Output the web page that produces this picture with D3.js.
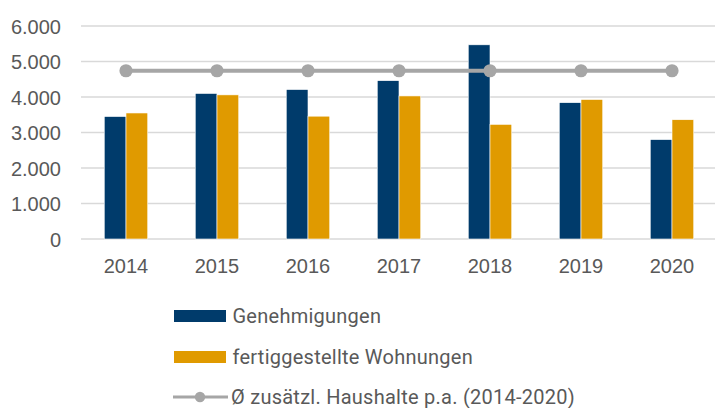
<!DOCTYPE html>
<html>
<head>
<meta charset="utf-8">
<script src="https://cdn.jsdelivr.net/npm/d3@7"></script>
<style>
  html, body { margin: 0; padding: 0; background: #fff; }
  svg { display: block; font-family: Roboto, "Noto Sans", sans-serif; }
</style>
</head>
<body>
<svg id="chart" width="715" height="408"></svg>
<script>
const years = ["2014", "2015", "2016", "2017", "2018", "2019", "2020"];
const genehmigungen = [3450, 4100, 4210, 4460, 5470, 3840, 2800];
const fertiggestellt = [3550, 4060, 3460, 4030, 3230, 3930, 3360];
const haushalte = [4740, 4740, 4740, 4740, 4740, 4740, 4740];
const yTicks = [0, 1000, 2000, 3000, 4000, 5000, 6000];
const seriesNames = ["Genehmigungen", "fertiggestellte Wohnungen", "Ø zusätzl. Haushalte p.a. (2014-2020)"];
const colors = ["#003B6B", "#E09A00", "#A6A6A6"];

const svg = d3.select("#chart");
const textColor = "#595959";

const x = d3.scaleBand().domain(years).range([80.5, 717.5]).padding(0);
const y = d3.scaleLinear().domain([0, 6000]).range([239, 26]);
const inner = d3.scaleBand().domain([0, 1]).range([0, 43.5]);
const groupOffset = (x.bandwidth() - 43.5) / 2;

// y axis labels
const yAxis = d3.axisLeft(y).tickValues(yTicks)
  .tickFormat(d => d3.format(",")(d).replace(/,/g, "."))
  .tickSize(0).tickPadding(20);
const gy = svg.append("g").attr("transform", "translate(81,0)").call(yAxis);
gy.select(".domain").remove();
gy.selectAll("text").attr("fill", textColor).style("font-size", "20px").attr("dy", "0.36em").attr("x", -20);

// gridlines
svg.append("g").selectAll("line").data(yTicks).join("line")
  .attr("x1", 81).attr("x2", 715)
  .attr("y1", d => y(d)).attr("y2", d => y(d))
  .attr("stroke", "#D9D9D9").attr("stroke-width", 1.4);

// bars
const barData = years.map((yr, i) => [
  {yr, s: 0, v: genehmigungen[i]},
  {yr, s: 1, v: fertiggestellt[i]}
]).flat();
svg.append("g").selectAll("rect").data(barData).join("rect")
  .attr("x", d => x(d.yr) + groupOffset + inner(d.s))
  .attr("width", inner.bandwidth())
  .attr("y", d => y(d.v))
  .attr("height", d => y(0) - y(d.v))
  .attr("fill", d => colors[d.s])
  .attr("stroke", "#ffffff").attr("stroke-width", 0.6);

// x axis labels
const xAxis = d3.axisBottom(x).tickSize(0).tickPadding(0);
const gx = svg.append("g").attr("transform", "translate(0,239)").call(xAxis);
gx.select(".domain").remove();
gx.selectAll("text").attr("fill", textColor).style("font-size", "20px").attr("y", 34).attr("dy", 0);

// line series
const line = d3.line().x((d, i) => x(years[i]) + x.bandwidth() / 2).y(d => y(d));
svg.append("path").datum(haushalte).attr("d", line)
  .attr("fill", "none").attr("stroke", colors[2]).attr("stroke-width", 4.2);
svg.append("g").selectAll("circle").data(haushalte).join("circle")
  .attr("cx", (d, i) => x(years[i]) + x.bandwidth() / 2)
  .attr("cy", d => y(d)).attr("r", 6.6).attr("fill", colors[2]);

// legend
const lg = svg.append("g");
const rowsY = [316, 357, 397];
[0, 1].forEach(i => {
  lg.append("rect").attr("x", 174).attr("y", rowsY[i] - 6).attr("width", 52).attr("height", 12).attr("fill", colors[i]);
});
lg.append("line").attr("x1", 173).attr("x2", 228).attr("y1", rowsY[2]).attr("y2", rowsY[2])
  .attr("stroke", colors[2]).attr("stroke-width", 3);
lg.append("circle").attr("cx", 200).attr("cy", rowsY[2]).attr("r", 5.2).attr("fill", colors[2]);
seriesNames.forEach((n, i) => {
  lg.append("text").attr("x", i === 2 ? 231 : 232.5).attr("y", rowsY[i]).attr("dy", "0.36em")
    .attr("fill", textColor).style("font-size", "20px")
    .style("letter-spacing", "0.25px").text(n);
});
</script>
</body>
</html>
